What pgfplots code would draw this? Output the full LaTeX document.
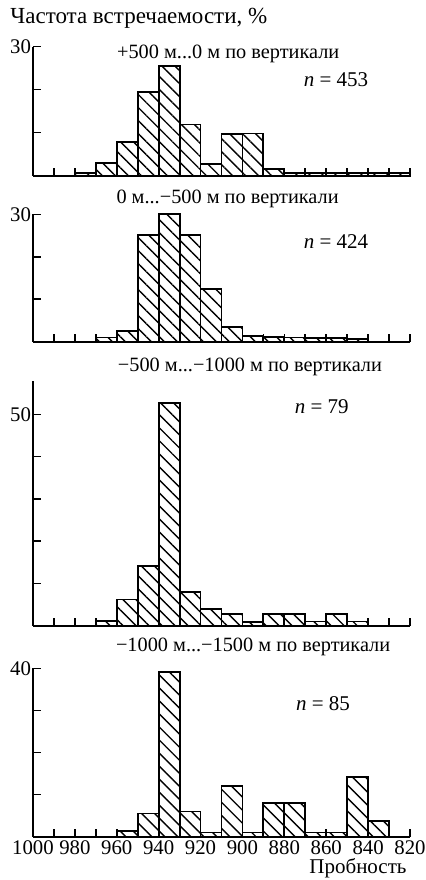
\documentclass[border=0pt]{standalone}
\usepackage{fontspec}
\setmainfont{Liberation Serif}
\usepackage{pgfplots}
\pgfplotsset{compat=1.18}
\usetikzlibrary{patterns.meta}

\tikzset{lab/.style={font=\fontsize{10.15}{12}\selectfont},
         tlab/.style={font=\fontsize{11.5}{13}\selectfont},
         nlab/.style={font=\fontsize{10.5}{12}\selectfont}}
\pgfplotsset{
  panel/.style={
    scale only axis, width=188.5pt,
    xmin=820, xmax=1000, x dir=reverse,
    ymin=0,
    axis x line=bottom, axis y line=left,
    axis line style={-, line width=0.9pt},
    xtick={820,840,...,1000}, minor xtick={830,850,...,990},
    tick align=inside, major tick length=3.8pt, minor tick length=3.8pt,
    every tick/.style={line width=0.8pt, black},
    xticklabels={},
    clip=false,
    /pgf/number format/assume math mode=true,
    ticklabel style={font=\fontsize{10.4}{12}\selectfont},
    yticklabel style={inner sep=0.8pt},
    xticklabel style={inner sep=2pt},
    anchor=south west,
  },
  hist/.style={ybar, bar width=10, draw=black, line width=0.9pt,
    pattern={Lines[angle=-45,distance=4.6pt,line width=0.7pt]}},
}

\begin{document}
\begin{tikzpicture}
\path[use as bounding box] (0pt,0pt) rectangle (213pt,440pt);

% Panel 1
\begin{axis}[panel, at={(16.5pt,352.15pt)}, height=64.5pt, ymax=30,
  ytick={10,20,30}, yticklabels={,,30}]
\addplot[hist] coordinates {
 (975,0.55) (965,2.9) (955,7.75) (945,19.5) (935,25.6) (925,11.9)
 (915,2.7) (905,9.7) (895,9.8) (885,1.55) (875,0.55) (865,0.55)
 (855,0.55) (845,0.55) (835,0.7) (825,0.7)};
\node[lab] at (axis cs:906.8,28.3) {+500 м...0 м по вертикали};
\node[nlab] at (axis cs:855.3,22.3) {\textit{n} = 453};
\end{axis}

% Panel 2
\begin{axis}[panel, at={(16.5pt,269.15pt)}, height=63.7pt, ymax=30,
  ytick={10,20,30}, yticklabels={,,30}]
\addplot[hist] coordinates {
 (965,1.0) (955,2.6) (945,25.1) (935,30.0) (925,25.1) (915,12.4)
 (905,3.5) (895,1.3) (885,1.2) (875,1.0) (865,0.8) (855,0.8) (845,0.6)};
\node[lab] at (axis cs:907.1,33.6) {0 м...−500 м по вертикали};
\node[nlab] at (axis cs:855.3,23.5) {\textit{n} = 424};
\end{axis}

% Panel 3
\begin{axis}[panel, at={(16.5pt,127.15pt)}, height=122.6pt, ymax=58,
  ytick={10,20,30,40,50}, yticklabels={,,,,50}]
\addplot[hist] coordinates {
 (965,1.2) (955,6.2) (945,14.2) (935,52.6) (925,8.0) (915,3.9)
 (905,2.7) (895,0.9) (885,2.7) (875,2.7) (865,1.0) (855,2.7) (845,1.0)};
\node[lab] at (axis cs:896.4,61.2) {−500 м...−1000 м по вертикали};
\node[nlab] at (axis cs:862.1,51.8) {\textit{n} = 79};
\end{axis}

% Panel 4
\begin{axis}[panel, at={(16.5pt,21.65pt)}, height=84.2pt, ymax=40,
  ytick={10,20,30,40}, yticklabels={,,,40},
  xticklabels={820,840,860,880,900,920,940,960,980,1000}]
\addplot[hist] coordinates {
 (955,1.4) (945,5.5) (935,39.2) (925,6.0) (915,1.0) (905,12.1)
 (895,1.0) (885,8.1) (875,8.1) (865,1.0) (855,1.0) (845,14.1) (835,3.8)};
\node[lab] at (axis cs:894.9,45.1) {−1000 м...−1500 м по вертикали};
\node[nlab] at (axis cs:861.5,31.7) {\textit{n} = 85};
\end{axis}

\node[tlab, anchor=west, inner sep=0pt] at (5pt,431pt) {Частота встречаемости, \%};
\node[nlab] at (179pt,6pt) {Пробность};
\end{tikzpicture}
\end{document}
